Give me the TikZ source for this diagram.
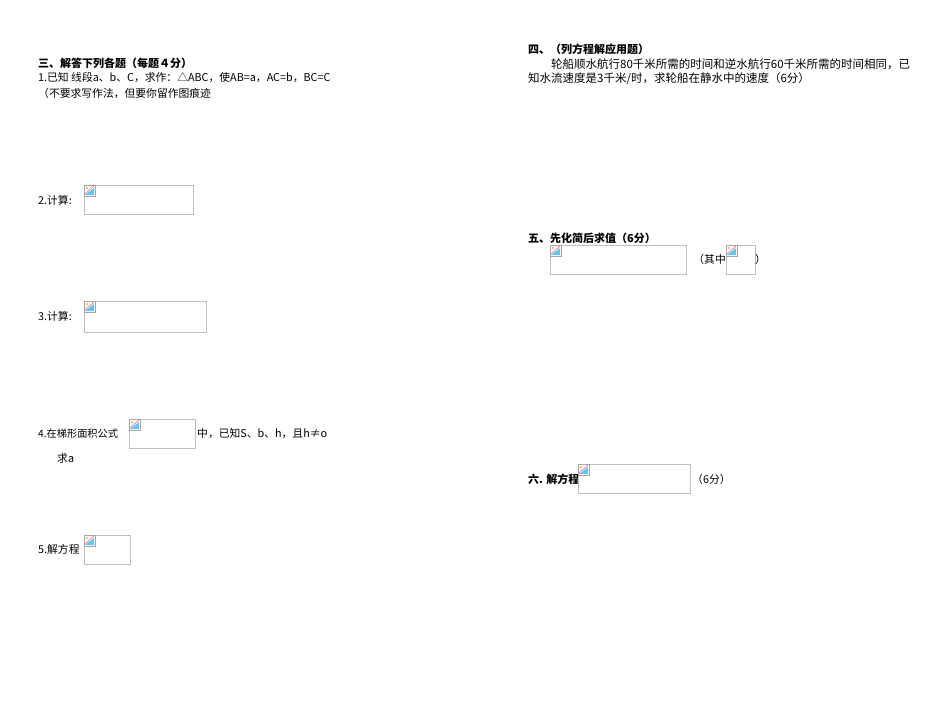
\documentclass[tikz,border=0pt]{standalone}
\usepackage{fontspec}
\setmainfont{Noto Sans CJK SC}
\begin{document}
\begin{tikzpicture}[x=1pt,y=-1pt,
  txt/.style={anchor=west,inner sep=0pt,font=\fontsize{10.8}{12}\selectfont},
  hd/.style={txt,font=\fontsize{11}{12}\selectfont\bfseries},
  imgbox/.style={draw=black!25,line width=0.6pt}]
\useasboundingbox[fill=white] (0,0) rectangle (950,713);
\newcommand\brokenimg[4]{%
  \draw[imgbox] (#1,#2) rectangle (#3,#4);
  \fill[white] (#1,#2) rectangle ++(12,12);
  \draw[black!35,line width=0.4pt] (#1,#2) rectangle ++(11,11);
  \fill[blue!40!cyan!60] (#1+1,#2+10) -- (#1+10,#2+10) -- (#1+10,#2+3) -- cycle;
  \draw[red!60,line width=0.6pt] (#1+1,#2+9) -- (#1+10,#2+1);
  \fill[orange!70] (#1+3,#2+3) circle (1.2);
}
\node[hd] (h3) at (38,63) {三、解答下列各题（每题４分）};
\node[txt] (q1a) at (38,78) {1.已知 线段a、b、C，求作：△ABC，使AB=a，AC=b，BC=C};
\node[txt] (q1b) at (38,93) {（不要求写作法，但要你留作图痕迹};
\node[txt] (q2) at (38,200) {2.计算:};
\brokenimg{84}{185}{193}{214}
\node[txt] (q3) at (38,316) {3.计算:};
\brokenimg{84}{301}{206}{332}
\node[txt,font=\fontsize{10.2}{12}\selectfont] (q4) at (38,434) {4.在梯形面积公式};
\brokenimg{129}{419}{195}{448}
\node[txt] (q4b) at (197,434) {中，已知S、b、h，且h≠o};
\node[txt] (q4c) at (57,458) {求a};
\node[txt] (q5) at (38,549) {5.解方程};
\brokenimg{84}{535}{130}{564}
\node[hd] (h4) at (528,49) {四、（列方程解应用题）};
\node[txt,font=\fontsize{11.5}{12}\selectfont] (p4a) at (551,64) {轮船顺水航行80千米所需的时间和逆水航行60千米所需的时间相同，已};
\node[txt,font=\fontsize{11.5}{12}\selectfont] (p4b) at (528,79) {知水流速度是3千米/时，求轮船在静水中的速度（6分）};
\node[hd] (h5) at (528,238) {五、先化简后求值（6分）};
\brokenimg{550}{245}{686}{274}
\node[txt,anchor=east] (p5) at (726,259) {（其中};
\brokenimg{726}{245}{755}{274}
\node[txt] (p5b) at (755,259) {）};
\node[hd] (h6) at (528,479) {六. 解方程};
\brokenimg{578}{464}{690}{493}
\node[txt] (p6) at (692,479) {（6分）};
\end{tikzpicture}
\end{document}
